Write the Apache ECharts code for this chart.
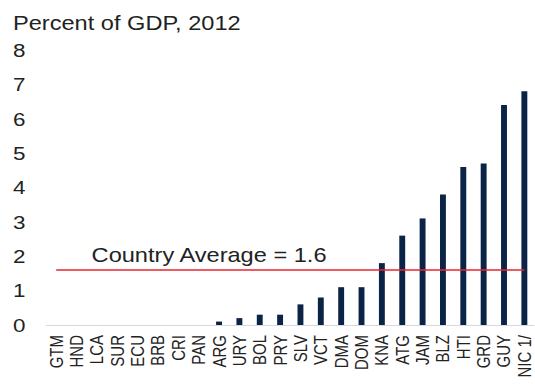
<!DOCTYPE html>
<html>
<head>
<meta charset="utf-8">
<script src="https://cdn.jsdelivr.net/npm/echarts@6/dist/echarts.min.js"></script>
<style>
  html, body { margin: 0; padding: 0; background: #fff; overflow: hidden; }
  /* the source picture is stretched sideways, so the chart is too */
  #chart { width: 453px; height: 387px; transform: scaleX(1.18); transform-origin: 0 0; }
</style>
</head>
<body>
<div id="chart"></div>
<script>
const countries = ['GTM', 'HND', 'LCA', 'SUR', 'ECU', 'BRB', 'CRI', 'PAN', 'ARG', 'URY', 'BOL', 'PRY',
  'SLV', 'VCT', 'DMA', 'DOM', 'KNA', 'ATG', 'JAM', 'BLZ', 'HTI', 'GRD', 'GUY', 'NIC 1/'];
const values = [0, 0, 0, 0, 0, 0, 0, 0, 0.1, 0.2, 0.3, 0.3,
  0.6, 0.8, 1.1, 1.1, 1.8, 2.6, 3.1, 3.8, 4.6, 4.7, 6.4, 6.8];
const average = 1.6;
const yTicks = [0, 8, 1];

const font = 'Liberation Sans, Arial, sans-serif';

const chart = echarts.init(document.getElementById('chart'), null, { renderer: 'svg' });
chart.setOption({
  animation: false,
  title: {
    text: 'Percent of GDP, 2012',
    left: 6,
    top: 8,
    textStyle: { fontFamily: font, fontSize: 20, fontWeight: 'normal', color: '#222' }
  },
  grid: { left: 39, top: 50, width: 420, bottom: 62, containLabel: false },
  xAxis: {
    type: 'category',
    data: countries,
    axisLine: { show: true, lineStyle: { color: '#d9d9d9', width: 1 } },
    axisTick: { show: false },
    axisLabel: {
      rotate: 90,
      interval: 0,
      fontFamily: font,
      fontSize: 15,
      color: '#222',
      margin: 10
    }
  },
  yAxis: {
    type: 'value',
    min: yTicks[0],
    max: yTicks[1],
    interval: yTicks[2],
    axisLine: { show: false },
    axisTick: { show: false },
    splitLine: { show: false },
    axisLabel: { fontFamily: font, fontSize: 19, color: '#222', margin: 28, align: 'left' }
  },
  series: [{
    type: 'bar',
    data: values,
    barWidth: 5,
    itemStyle: { color: '#0b2346' },
    markLine: {
      silent: true,
      symbol: 'none',
      lineStyle: { color: '#e8262f', width: 1.5, type: 'solid' },
      label: {
        show: true,
        position: 'insideStartTop',
        formatter: 'Country Average = ' + average,
        fontFamily: font,
        fontSize: 20,
        color: '#222',
        distance: [30, 5]
      },
      data: [[
        { coord: [countries[0], average] },
        { coord: [countries[countries.length - 1], average] }
      ]]
    }
  }]
});
</script>
</body>
</html>
